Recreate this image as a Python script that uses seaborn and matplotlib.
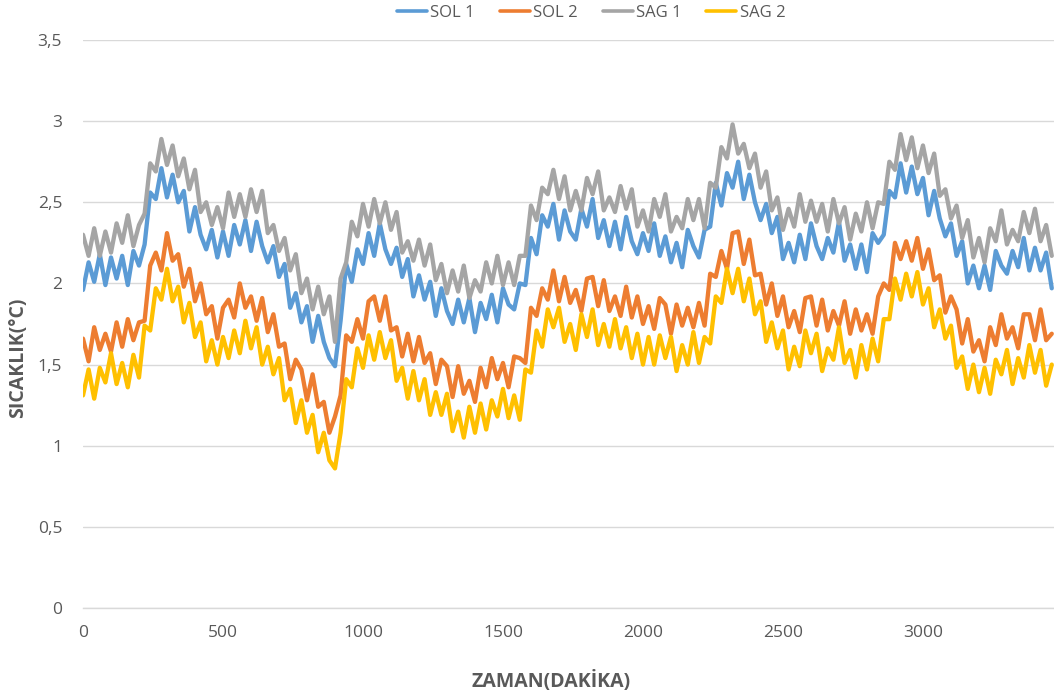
import matplotlib
matplotlib.use("Agg")
import matplotlib.pyplot as plt
import pandas as pd
import seaborn as sns
from matplotlib.ticker import FuncFormatter, MultipleLocator

# ---- data ----
minutes = list(range(0, 3461, 20))

sol1 = [1.96,2.13,2.01,2.18,1.99,2.16,2.03,2.17,1.99,2.20,
        2.11,2.24,2.56,2.52,2.71,2.53,2.67,2.50,2.57,2.32,
        2.47,2.30,2.21,2.33,2.16,2.32,2.17,2.36,2.24,2.39,
        2.20,2.38,2.23,2.13,2.23,2.04,2.12,1.85,1.94,1.76,
        1.86,1.64,1.80,1.64,1.54,1.49,1.77,2.12,2.01,2.21,
        2.12,2.31,2.17,2.37,2.21,2.12,2.22,2.04,2.15,1.92,
        2.05,1.90,2.01,1.80,1.97,1.83,1.75,1.90,1.76,1.91,
        1.70,1.88,1.78,1.93,1.76,1.97,1.87,1.84,2.00,1.99,
        2.28,2.18,2.42,2.35,2.49,2.27,2.45,2.32,2.27,2.46,
        2.35,2.52,2.28,2.39,2.23,2.38,2.21,2.41,2.26,2.18,
        2.31,2.20,2.37,2.17,2.29,2.13,2.25,2.10,2.33,2.23,
        2.16,2.33,2.35,2.62,2.48,2.68,2.59,2.75,2.52,2.67,
        2.50,2.39,2.49,2.31,2.41,2.15,2.25,2.13,2.30,2.15,
        2.37,2.23,2.15,2.28,2.19,2.38,2.14,2.24,2.09,2.24,
        2.07,2.31,2.25,2.30,2.57,2.53,2.74,2.56,2.72,2.55,
        2.65,2.42,2.57,2.40,2.29,2.37,2.17,2.26,2.00,2.11,
        1.97,2.11,1.96,2.20,2.11,2.06,2.20,2.10,2.28,2.08,
        2.22,2.08,2.19,1.97]

sol2 = [1.66,1.52,1.73,1.59,1.69,1.58,1.76,1.61,1.78,1.65,
        1.76,1.77,2.11,2.19,2.08,2.31,2.14,2.18,1.98,2.09,
        1.89,2.00,1.81,1.86,1.66,1.85,1.90,1.79,2.00,1.85,
        1.92,1.77,1.91,1.70,1.81,1.61,1.63,1.41,1.53,1.47,
        1.28,1.44,1.24,1.27,1.08,1.18,1.31,1.68,1.64,1.78,
        1.66,1.89,1.92,1.77,1.92,1.71,1.73,1.55,1.69,1.52,
        1.67,1.51,1.57,1.38,1.53,1.49,1.30,1.49,1.32,1.40,
        1.27,1.48,1.36,1.54,1.41,1.51,1.36,1.55,1.54,1.51,
        1.85,1.80,1.97,1.90,2.08,1.89,2.04,1.88,1.96,1.83,
        2.03,2.04,1.86,2.02,1.83,1.92,1.80,1.98,1.79,1.92,
        1.75,1.86,1.72,1.91,1.87,1.69,1.87,1.74,1.85,1.73,
        1.88,1.74,2.06,2.04,2.20,2.09,2.31,2.32,2.12,2.27,
        2.05,2.06,1.87,2.00,1.80,1.92,1.73,1.83,1.70,1.91,
        1.92,1.74,1.90,1.71,1.83,1.74,1.89,1.69,1.84,1.71,
        1.81,1.69,1.92,2.00,1.96,2.25,2.15,2.26,2.14,2.28,
        2.09,2.21,2.02,2.05,1.82,1.92,1.84,1.63,1.78,1.58,
        1.65,1.52,1.73,1.62,1.81,1.66,1.73,1.60,1.81,1.81,
        1.65,1.84,1.65,1.69]

sag1 = [2.30,2.17,2.34,2.17,2.32,2.19,2.37,2.25,2.42,2.23,
        2.36,2.43,2.74,2.69,2.89,2.73,2.85,2.66,2.77,2.58,
        2.70,2.44,2.50,2.36,2.47,2.34,2.56,2.41,2.55,2.41,
        2.58,2.44,2.57,2.31,2.36,2.20,2.28,2.08,2.18,1.94,
        2.03,1.84,1.98,1.81,1.92,1.64,2.03,2.13,2.38,2.29,
        2.49,2.35,2.52,2.37,2.50,2.33,2.44,2.19,2.26,2.14,
        2.27,2.11,2.24,2.02,2.12,1.94,2.08,1.95,2.11,1.91,
        2.02,1.95,2.13,2.00,2.17,1.99,2.13,1.99,2.17,2.17,
        2.48,2.39,2.59,2.55,2.70,2.52,2.66,2.45,2.57,2.45,
        2.65,2.55,2.69,2.45,2.53,2.44,2.60,2.46,2.58,2.35,
        2.45,2.32,2.52,2.41,2.55,2.32,2.41,2.34,2.52,2.39,
        2.52,2.34,2.62,2.59,2.84,2.77,2.98,2.80,2.86,2.71,
        2.80,2.59,2.69,2.45,2.53,2.33,2.46,2.35,2.55,2.38,
        2.51,2.38,2.49,2.32,2.52,2.37,2.47,2.27,2.43,2.32,
        2.50,2.34,2.50,2.49,2.75,2.70,2.92,2.76,2.90,2.71,
        2.85,2.68,2.80,2.54,2.58,2.40,2.48,2.28,2.39,2.16,
        2.28,2.13,2.34,2.26,2.45,2.24,2.33,2.26,2.44,2.31,
        2.46,2.26,2.36,2.17]

sag2 = [1.31,1.47,1.29,1.48,1.39,1.57,1.38,1.51,1.36,1.56,
        1.42,1.74,1.71,1.97,1.90,2.09,1.89,1.98,1.76,1.88,
        1.67,1.76,1.52,1.65,1.50,1.67,1.54,1.71,1.57,1.77,
        1.60,1.73,1.50,1.61,1.44,1.54,1.28,1.35,1.14,1.28,
        1.08,1.19,0.96,1.08,0.91,0.86,1.08,1.41,1.36,1.60,
        1.48,1.68,1.53,1.70,1.54,1.65,1.40,1.48,1.29,1.46,
        1.28,1.41,1.19,1.33,1.19,1.32,1.09,1.21,1.05,1.24,
        1.08,1.26,1.10,1.28,1.18,1.35,1.17,1.31,1.16,1.47,
        1.45,1.71,1.61,1.84,1.73,1.85,1.64,1.75,1.59,1.81,
        1.67,1.84,1.62,1.75,1.61,1.78,1.60,1.73,1.54,1.69,
        1.50,1.67,1.50,1.68,1.54,1.67,1.46,1.62,1.50,1.70,
        1.51,1.67,1.63,1.92,1.88,2.09,1.94,2.09,1.89,2.03,
        1.81,1.89,1.64,1.76,1.60,1.71,1.47,1.61,1.49,1.71,
        1.57,1.69,1.46,1.60,1.53,1.73,1.51,1.59,1.42,1.62,
        1.47,1.66,1.52,1.78,1.78,2.03,1.90,2.06,1.92,2.07,
        1.87,1.97,1.73,1.84,1.66,1.74,1.48,1.55,1.35,1.50,
        1.33,1.48,1.32,1.53,1.44,1.59,1.38,1.54,1.42,1.62,
        1.45,1.59,1.37,1.50]

series_names = ["SOL 1", "SOL 2", "SAG 1", "SAG 2"]
series_colors = ["#5B9BD5", "#ED7D31", "#A5A5A5", "#FFC000"]

# ---- build long-form table ----
frames = []
for name, vals in zip(series_names, [sol1, sol2, sag1, sag2]):
    frames.append(pd.DataFrame({"ZAMAN": minutes, "SICAKLIK": vals, "series": name}))
df = pd.concat(frames, ignore_index=True)

sns.set_style("white")
plt.rcParams["font.family"] = ["Open Sans", "DejaVu Sans"]

TXT = "#595959"
fig = plt.figure(figsize=(10.54, 6.97), dpi=100)
ax = fig.add_axes([83 / 1054, 1 - 608 / 697, 1 - 83 / 1054, (608 - 40) / 697])

sns.lineplot(data=df, x="ZAMAN", y="SICAKLIK", hue="series",
             hue_order=series_names,
             palette=dict(zip(series_names, series_colors)),
             estimator=None, sort=False, linewidth=3.1, ax=ax)

handles, labels = ax.get_legend_handles_labels()
ax.get_legend().remove()
for h in handles:
    h.set_linewidth(2.6)
fig.legend(handles, labels, loc="center", bbox_to_anchor=(591 / 1054, 1 - 13 / 697),
           ncol=4, frameon=False, fontsize=12, handlelength=1.8,
           handletextpad=0.2, columnspacing=1.5, labelcolor=TXT)

ax.set_xlim(0, 3468)
ax.set_ylim(0, 3.5)
ax.xaxis.set_major_locator(MultipleLocator(500))
ax.yaxis.set_major_locator(MultipleLocator(0.5))
ax.yaxis.set_major_formatter(FuncFormatter(lambda v, p: f"{v:g}".replace(".", ",")))
ax.grid(axis="y", color="#D9D9D9", linewidth=1)
ax.grid(axis="x", visible=False)
ax.set_axisbelow(True)
for s in ["left", "right", "top"]:
    ax.spines[s].set_visible(False)
ax.spines["bottom"].set_color("#D9D9D9")
ax.spines["bottom"].set_linewidth(1)
ax.tick_params(axis="both", length=0, labelsize=12.5, colors=TXT)
ax.tick_params(axis="y", pad=15)
ax.tick_params(axis="x", pad=12)
ax.set_xlabel("")
ax.set_ylabel("")

fig.text(18 / 1054, 1 - 358 / 697, "SICAKLIK(°C)", rotation=90, ha="center", va="center",
         fontsize=14, fontweight="bold", color=TXT)
fig.text(551 / 1054, 1 - 681 / 697, "ZAMAN(DAKİKA)", ha="center", va="center",
         fontsize=14, fontweight="bold", color=TXT)

fig.savefig("out.png", dpi=100)
